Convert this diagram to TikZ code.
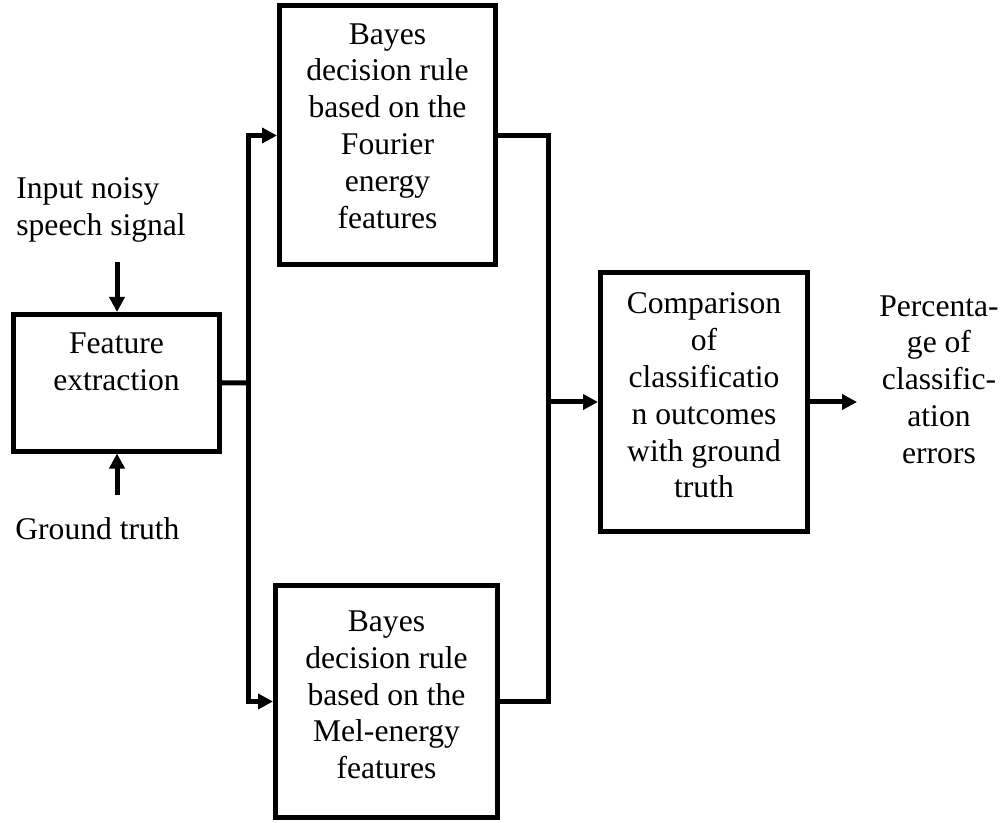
\documentclass[tikz,border=0pt]{standalone}
\usepackage{fontspec}
\setmainfont{Liberation Serif}
\usetikzlibrary{positioning,arrows.meta}

\begin{document}
\begin{tikzpicture}[x=0.5pt, y=-0.5pt, font=\fontsize{15.8pt}{18.4pt}\selectfont,
	blk/.style={draw, line width=2.5pt, inner sep=0pt},
	txt/.style={align=center, inner sep=0pt},
	ln/.style={line width=2.5pt},
	arr/.style={ln, -{Triangle[length=7.5pt, width=7.5pt]}}]
	\useasboundingbox (0,0) rectangle (1006,823);
	% blocks
	\node[blk, minimum width=103pt, minimum height=68.25pt] (fe) at (116.5,382.75) {};
	\node[blk, minimum width=108pt, minimum height=129.5pt] (fourier) at (387.5,135.5) {};
	\node[blk, minimum width=111pt, minimum height=116pt] (mel) at (386.5,701.5) {};
	\node[blk, minimum width=103.5pt, minimum height=129.5pt] (comp) at (704,402) {};
	\node[txt, below=10.25pt of fe.north] (fetxt) {Feature\\extraction};
	\node[txt, below=9.75pt of fourier.north] (fouriertxt) {Bayes\\decision rule\\based on the\\Fourier\\energy\\features};
	\node[txt, below=13.75pt of mel.north] (meltxt) {Bayes\\decision rule\\based on the\\Mel-energy\\features};
	\node[txt, below=11.25pt of comp.north] (comptxt) {Comparison\\of\\classificatio\\n outcomes\\with ground\\truth};
	% inputs and output
	\node[txt, align=left, anchor=north west] (input) at (16,177) {Input noisy\\speech signal};
	\node[txt, anchor=north west] (truth) at (15,517) {Ground truth};
	\node[txt, anchor=north] (pct) at (939,295) {Percenta-\\ge of\\classific-\\ation\\errors};
	\coordinate (inp) at (117,262);
	\coordinate (gtp) at (117,495);
	\coordinate (split) at (248,383);
	\coordinate (merge) at (548,402);
	\coordinate (res) at (857,402);
	% connectors
	\draw[arr] (inp) -- (inp |- fe.north);
	\draw[arr] (gtp) -- (gtp |- fe.south);
	\draw[ln] (fe.east) -- (split);
	\draw[arr] (split) |- (fourier.west);
	\draw[arr] (split) |- (mel.west);
	\draw[ln] (fourier.east) -| (merge);
	\draw[ln] (mel.east) -| (merge);
	\draw[arr] (merge) -- (comp.west);
	\draw[arr] (comp.east) -- (res);
\end{tikzpicture}
\end{document}
